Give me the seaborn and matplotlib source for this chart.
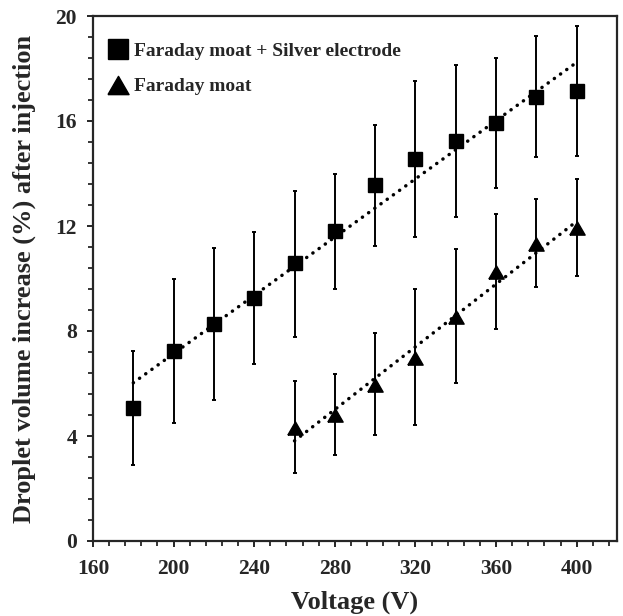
import matplotlib
matplotlib.use("Agg")
import matplotlib.pyplot as plt
from matplotlib.lines import Line2D
from matplotlib.ticker import MultipleLocator
import numpy as np
import pandas as pd
import seaborn as sns

# Faraday moat + Silver electrode
volt_silver = [180, 200, 220, 240, 260, 280, 300, 320, 340, 360, 380, 400]
incr_silver = [5.07, 7.25, 8.27, 9.24, 10.58, 11.80, 13.55, 14.54, 15.25, 15.94, 16.93, 17.15]
err_hi_silver = [7.25, 9.98, 11.15, 11.76, 13.35, 13.98, 15.85, 17.51, 18.13, 18.39, 19.24, 19.62]
err_lo_silver = [2.90, 4.50, 5.37, 6.74, 7.78, 9.61, 11.25, 11.57, 12.34, 13.46, 14.64, 14.68]

# Faraday moat only
volt_moat = [260, 280, 300, 320, 340, 360, 380, 400]
incr_moat = [4.29, 4.80, 5.94, 6.96, 8.52, 10.24, 11.31, 11.91]
err_hi_moat = [6.11, 6.37, 7.91, 9.60, 11.11, 12.45, 13.04, 13.78]
err_lo_moat = [2.58, 3.28, 4.03, 4.41, 6.03, 8.09, 9.66, 10.11]

labels = ["Faraday moat + Silver electrode", "Faraday moat"]

sns.set_style("ticks")
plt.rcParams["font.family"] = ["Liberation Serif", "DejaVu Serif"]
plt.rcParams["font.weight"] = "bold"

# flatter (equilateral) triangle
tri = [(-1, -0.866), (1, -0.866), (0, 0.866), (-1, -0.866)]

fig = plt.figure(figsize=(6.23, 6.16), dpi=100)
ax = fig.add_axes([93 / 623, 1 - 541 / 616, (617 - 93) / 623, (541 - 16) / 616])

series = [
    (volt_silver, incr_silver, err_lo_silver, err_hi_silver, "s", 10, labels[0]),
    (volt_moat, incr_moat, err_lo_moat, err_hi_moat, tri, 11, labels[1]),
]

handles = []
for x, y, lo, hi, mk, ms, lab in series:
    y = np.array(y)
    yerr = [y - np.array(lo), np.array(hi) - y]
    ax.errorbar(x, y, yerr=yerr, fmt="none", ecolor="black", elinewidth=1.4,
                capsize=1.7, capthick=1.4, zorder=2)
    df = pd.DataFrame({"V": x, "inc": y})
    sns.regplot(data=df, x="V", y="inc", ax=ax, scatter=False, ci=None,
                truncate=True,
                line_kws=dict(color="black", linewidth=2.5, linestyle=(0, (0.05, 2.15)),
                              dash_capstyle="round", zorder=3))
    ax.plot(x, y, linestyle="none", marker=mk, markersize=ms, color="black",
            markeredgecolor="black", zorder=4)
    handles.append(Line2D([], [], linestyle="none", marker=mk, markersize=ms * 1.38,
                          color="black", label=lab))

ax.set_xlim(160, 420)
ax.set_ylim(0, 20)
ax.xaxis.set_major_locator(MultipleLocator(40))
ax.xaxis.set_minor_locator(MultipleLocator(8))
ax.yaxis.set_major_locator(MultipleLocator(4))
ax.yaxis.set_minor_locator(MultipleLocator(0.8))
ax.tick_params(which="major", direction="out", length=4.5, width=1.4, labelsize=15.5)
ax.tick_params(axis="y", which="major", pad=7)
ax.tick_params(axis="x", which="major", pad=8.5)
ax.tick_params(which="minor", direction="out", length=3.5, width=1.3)
for sp in ax.spines.values():
    sp.set_linewidth(1.6)

ax.set_xlabel("Voltage (V)", fontsize=19, fontweight="bold", labelpad=8)
ax.set_ylabel("Droplet volume increase (%) after injection", fontsize=19,
              fontweight="bold", labelpad=14)

ax.legend(handles=handles, loc="upper left", frameon=False, handletextpad=0.25,
          handlelength=1.2, borderaxespad=0, bbox_to_anchor=(0.01, 0.965),
          labelspacing=0.93, prop=dict(weight="bold", size=14))

fig.savefig("out.png", dpi=100)
